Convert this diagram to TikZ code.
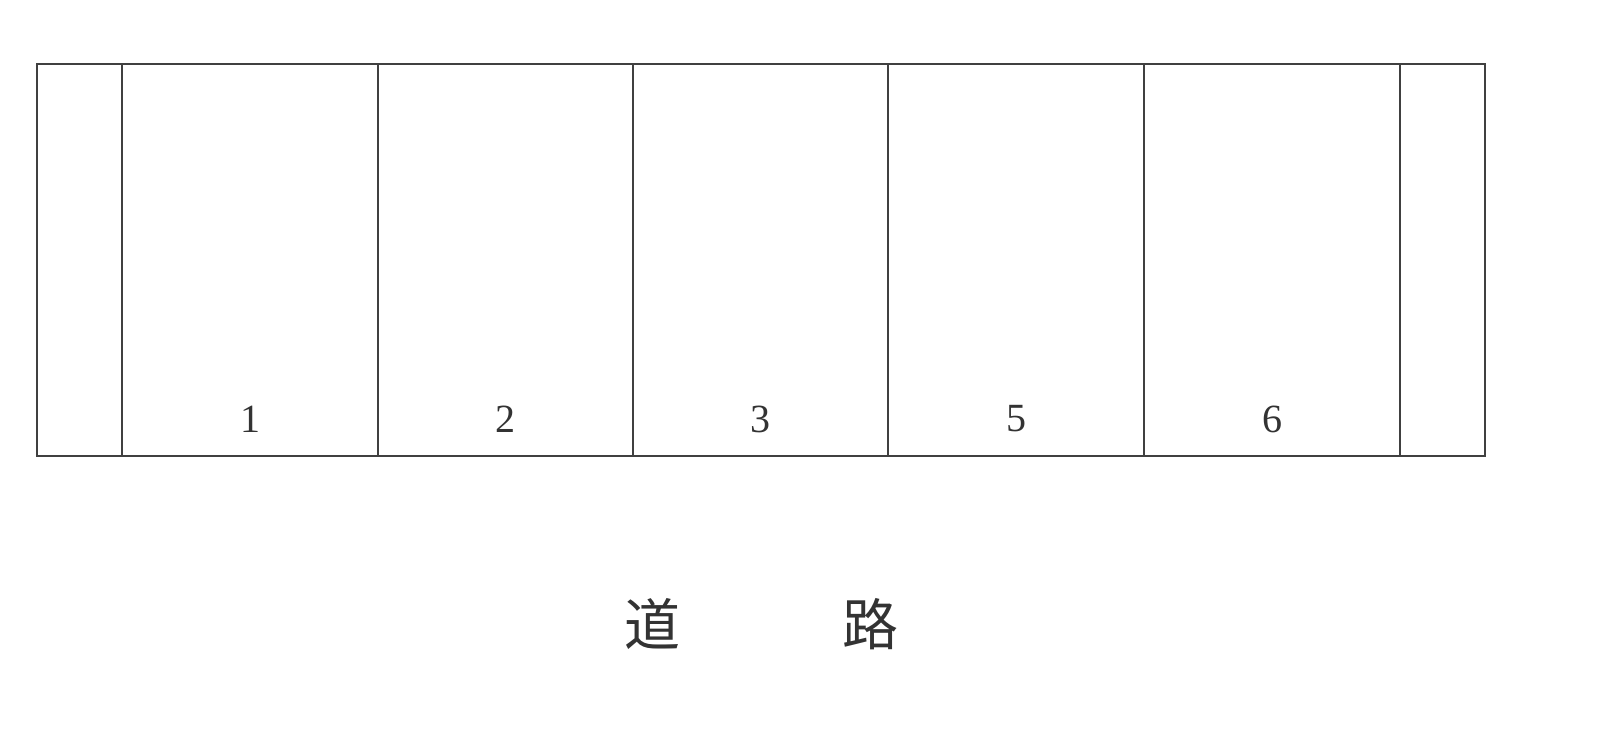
\documentclass[tikz,border=0pt]{standalone}
\usepackage{fontspec}
\newfontfamily\cjk{Noto Sans CJK JP}
\setmainfont{Liberation Serif}
\begin{document}
\begin{tikzpicture}[x=1pt,y=-1pt,
  wall/.style={draw=black!75,line width=1.8pt},
  numlabel/.style={font=\fontsize{40}{40}\selectfont,text=black!80,inner sep=0pt},
  roadlabel/.style={font=\cjk\fontsize{56}{56}\selectfont,text=black!80,inner sep=0pt}]
\useasboundingbox (0,0) rectangle (1602,747);
\fill[white] (0,0) rectangle (1602,747);
\coordinate (tl) at (37,64);
\coordinate (br) at (1485,456);
\draw[wall] (tl) rectangle (br);
\foreach \x [count=\i] in {122,378,633,888,1144,1400}{
  \coordinate (t\i) at (\x,64);
  \coordinate (b\i) at (\x,456);
  \draw[wall] (t\i) -- (b\i);
}
\node[numlabel] (n1) at (250,419) {1};
\node[numlabel] (n2) at (505,419) {2};
\node[numlabel] (n3) at (760,419) {3};
\node[numlabel] (n5) at (1016,419) {5};
\node[numlabel] (n6) at (1272,419) {6};
\node[roadlabel] (r1) at (652,624) {道};
\node[roadlabel] (r2) at (870,624) {路};
\end{tikzpicture}
\end{document}
